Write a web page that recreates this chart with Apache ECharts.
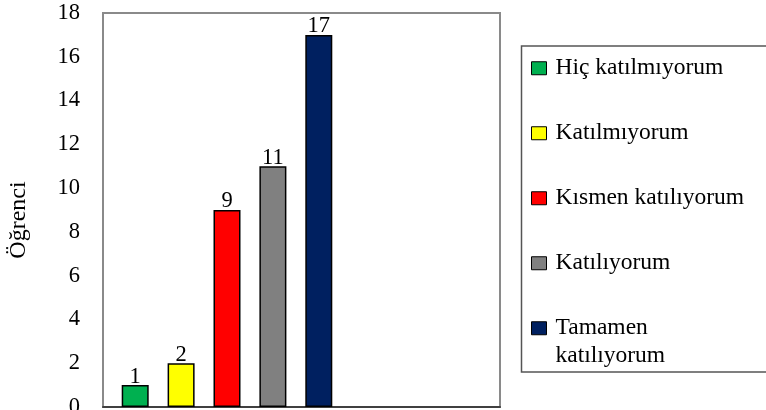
<!DOCTYPE html>
<html>
<head>
<meta charset="utf-8">
<script src="https://cdn.jsdelivr.net/npm/echarts@6/dist/echarts.min.js"></script>
<style>
html,body{margin:0;padding:0;background:#fff;}
#c{width:766px;height:410px;}
</style>
</head>
<body>
<div id="c"></div>
<script>
const seriesNames = ['Hiç katılmıyorum', 'Katılmıyorum', 'Kısmen katılıyorum', 'Katılıyorum', 'Tamamen katılıyorum'];
const seriesValues = [1, 2, 9, 11, 17];
const seriesColors = ['#00B050', '#FFFF00', '#FF0000', '#808080', '#002060'];
const yTicks = { min: 0, max: 18, interval: 2 };
const yTitle = 'Öğrenci';

const FONT = "'Times New Roman', 'Liberation Serif', serif";
const chart = echarts.init(document.getElementById('c'));

const series = seriesNames.map((n, i) => ({
  name: n,
  type: 'bar',
  xAxisIndex: 1,
  yAxisIndex: 1,
  data: [seriesValues[i]],
  barWidth: 27,
  barGap: '70%',
  itemStyle: { color: seriesColors[i], borderColor: '#000', borderWidth: 1.5 },
  label: { show: true, position: 'top', distance: -3, color: '#000', fontFamily: FONT, fontSize: 22.5 },
  animation: false
}));

const legendText = { color: '#000', fontFamily: FONT, fontSize: 23.5, lineHeight: 27.5,
  rich: { s: { width: 4, lineHeight: 27.5 } } };

chart.setOption({
  animation: false,
  grid: [
    { left: 103, right: 266, top: 13, bottom: 3, outerBoundsMode: 'none', containLabel: false,
      show: true, borderColor: '#8a8a8a', borderWidth: 2, backgroundColor: 'transparent' },
    { left: 103, width: 248, top: 13, bottom: 3, outerBoundsMode: 'none', containLabel: false }
  ],
  xAxis: [
    { gridIndex: 0, type: 'value', min: 0, max: 1, axisLine: { show: true, lineStyle: { color: '#404040', width: 2 } }, axisTick: { show: false }, axisLabel: { show: false }, splitLine: { show: false } },
    { gridIndex: 1, type: 'category', data: [''], axisLine: { show: false }, axisTick: { show: false }, axisLabel: { show: false } }
  ],
  yAxis: [
    { gridIndex: 0, type: 'value', min: yTicks.min, max: yTicks.max, interval: yTicks.interval,
      axisLine: { show: false }, axisTick: { show: false }, splitLine: { show: false },
      axisLabel: { color: '#000', fontFamily: FONT, fontSize: 22.5, margin: 23 },
      name: yTitle, nameLocation: 'middle', nameRotate: 90, nameGap: 72.5,
      nameTextStyle: { color: '#000', fontFamily: FONT, fontSize: 24, padding: [0, 20, 0, 0] } },
    { gridIndex: 1, type: 'value', min: yTicks.min, max: yTicks.max, show: false }
  ],
  legend: [
    { data: seriesNames.slice(0, 4), orient: 'vertical', left: 531, top: 54.5, itemWidth: 15, itemHeight: 13, itemGap: 37.5,
      padding: 0, selectedMode: false, icon: 'rect',
      formatter: n => '{s|}' + n,
      itemStyle: { borderColor: '#000', borderWidth: 1 },
      textStyle: legendText },
    { data: seriesNames.slice(4), orient: 'vertical', left: 531, top: 287, itemWidth: 15, itemHeight: 13,
      padding: 0, selectedMode: false, icon: 'rect',
      formatter: n => '{s|}\n' + n.split(' ').map(w => '{s|}' + w).join('\n'),
      itemStyle: { borderColor: '#000', borderWidth: 1 },
      textStyle: legendText }
  ],
  graphic: [
    { type: 'rect', silent: true, shape: { x: 521.5, y: 46, width: 300, height: 326 }, style: { fill: 'none', stroke: '#555', lineWidth: 1.5 } }
  ],
  series: series
});
</script>
</body>
</html>
